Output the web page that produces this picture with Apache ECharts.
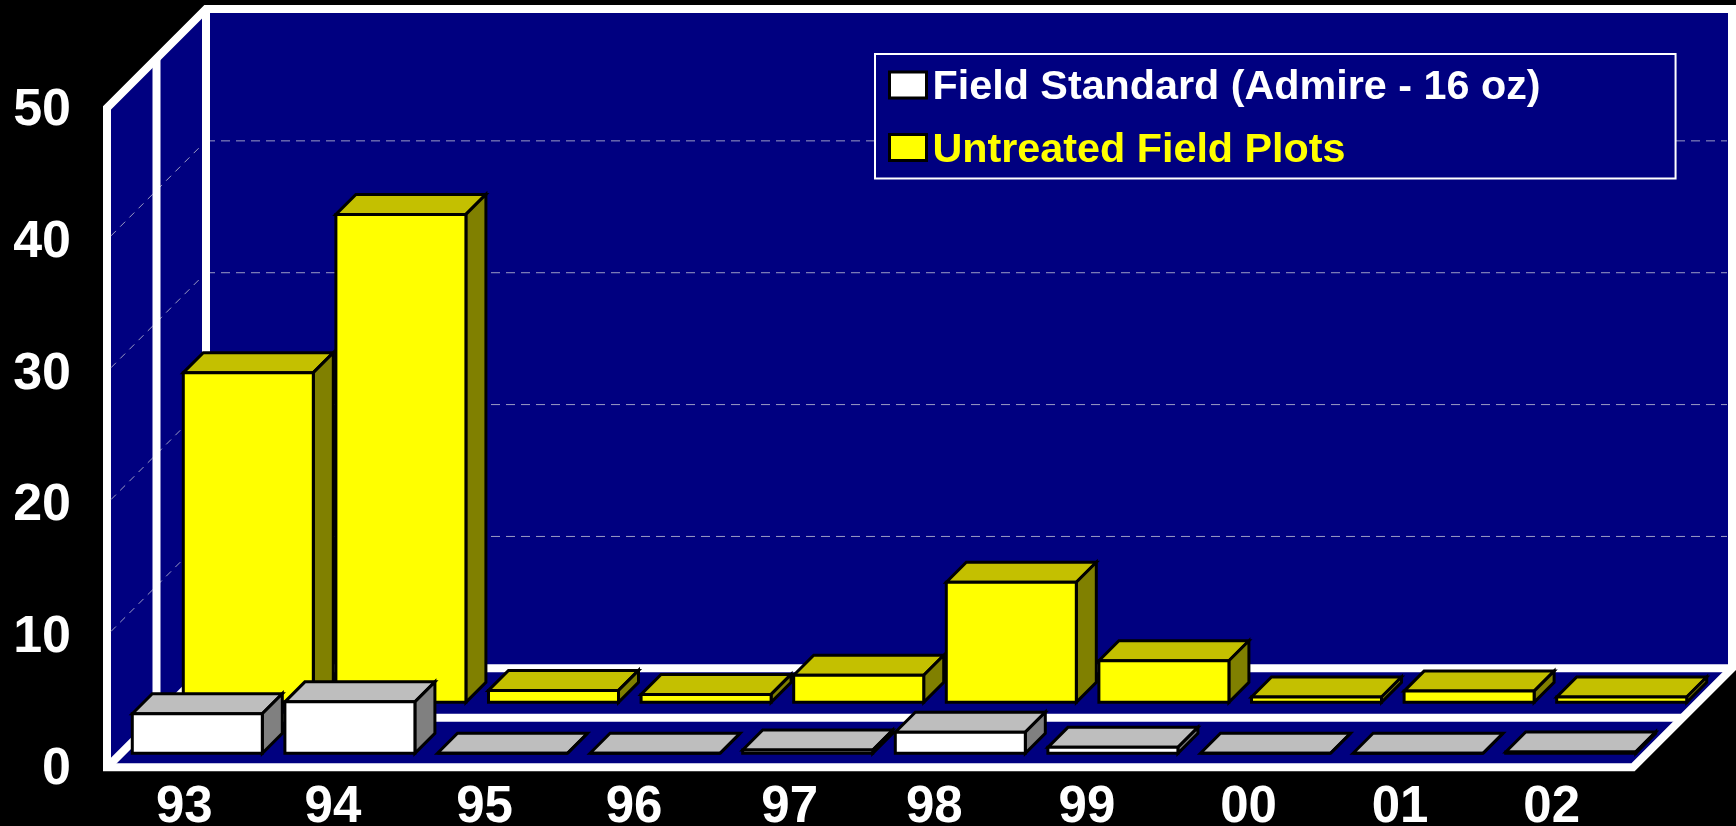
<!DOCTYPE html>
<html><head><meta charset="utf-8">
<style>html,body{margin:0;padding:0;background:#000}#c{width:1736px;height:826px}</style>
<script src="https://cdn.jsdelivr.net/npm/echarts@6/dist/echarts.min.js"></script>
</head><body><div id="c"></div>
<script>
const categories = ['93','94','95','96','97','98','99','00','01','02'];
const fieldStandard = [3.0,3.9,0,0,0.25,1.6,0.45,0,0,0.1];
const untreated = [25,37,0.9,0.6,2.05,9.1,3.15,0.4,0.85,0.4];
const yTicks = [10,20,30,40];
const labelShift = [1,-3,-4,-7,-4,-12,-12,-3,-4,-5];
const legendNames = ['Field Standard (Admire - 16 oz)','Untreated Field Plots'];

const FONT = '"Liberation Sans", Arial, sans-serif';
const DEPTH = 99, BAR_DEPTH = 20, BAR_FRAC = 0.852;
const NAVY = '#000080';

function poly(points, fill, stroke, lw){
  return {type:'polygon', shape:{points}, style:{fill, stroke, lineWidth:lw, lineJoin:'miter'}};
}
function line(a,b,stroke,lw,dash){
  return {type:'line', shape:{x1:a[0],y1:a[1],x2:b[0],y2:b[1]}, style:{stroke, lineWidth:lw, lineDash:dash||null, fill:null}};
}
function frameItem(params, api){
  const c = params.coordSys;
  const x0=c.x, x1=c.x+c.width, y0=c.y+c.height, yT=c.y;
  const D=DEPTH, M=DEPTH/2;
  const ch=[];
  ch.push(poly([[x0,y0],[x0,yT],[x0+D,yT-D],[x1+D,yT-D],[x1+D,y0-D],[x1,y0]],NAVY,'#fff',8));
  yTicks.forEach(v=>{
    const y=api.coord([0,v])[1];
    ch.push(line([x0+4,y-4],[x0+D-4,y-D+4],'#9c9cc4',1,[7,6]));
    ch.push(line([x0+D,y-D],[x1+D-5,y-D],'#9c9cc4',1,[9,6]));
  });
  const W='#fff';
  ch.push(line([x0,y0],[x0+D,y0-D],W,8));
  ch.push(line([x0+D,yT-D],[x0+D,y0-D],W,8));
  ch.push(line([x0+D,y0-D],[x1+D,y0-D],W,8));
  ch.push(line([x0+M,yT-M],[x0+M,y0-M],W,8));
  ch.push(line([x0+M,y0-M],[x1+M,y0-M],W,8));
  return {type:'group',children:ch};
}
function barItem(zFront, front, top, side){
  return function(params, api){
    const i=api.value(0), v=api.value(1);
    const p0=api.coord([i,0]), p1=api.coord([i,v]);
    const w=api.size([1,0])[0]*BAR_FRAC;
    const xl=p0[0]-w/2+zFront, xr=p0[0]+w/2+zFront;
    const yb=p0[1]-zFront, yt=p1[1]-zFront, d=BAR_DEPTH;
    return {type:'group',children:[
      poly([[xl,yt],[xl+d,yt-d],[xr+d,yt-d],[xr,yt]],top,'#000',3),
      poly([[xr,yb],[xr,yt],[xr+d,yt-d],[xr+d,yb-d]],side,'#000',3),
      poly([[xl,yb],[xl,yt],[xr,yt],[xr,yb]],front,'#000',3)
    ]};
  };
}
const rich={};
labelShift.forEach((s,i)=>{
  rich['s'+i]={color:'#fff',fontFamily:FONT,fontWeight:'bold',fontSize:51,
    padding: s<0 ? [0,-2*s,0,0] : [0,0,0,2*s]};
});
const legendStyle = (color)=>({color,fontFamily:FONT,fontWeight:'bold',fontSize:41.3,padding:[6,0,0,1]});
const chart=echarts.init(document.getElementById('c'),null,{renderer:'canvas'});
chart.setOption({
  animation:false,
  backgroundColor:'#000',
  grid:{left:107,top:108,width:1526,height:659.3,containLabel:false,outerBoundsMode:'none'},
  xAxis:{type:'category',data:categories,axisLine:{show:false},axisTick:{show:false},splitLine:{show:false},
    axisLabel:{margin:15,interval:0,formatter:(v,i)=>'{s'+i+'|'+v+'}',rich}},
  yAxis:{type:'value',min:0,max:50,interval:10,axisLine:{show:false},axisTick:{show:false},splitLine:{show:false},
    axisLabel:{margin:36,formatter:'{a|{value}}',
      rich:{a:{color:'#fff',fontFamily:FONT,fontWeight:'bold',fontSize:52,padding:[5,0,0,0]}}}},
  legend:{orient:'vertical',left:875,top:54,
    padding:[13.4,135,7.3,13],itemGap:21.7,itemWidth:37,itemHeight:26,
    backgroundColor:NAVY,borderColor:'#fff',borderWidth:2,
    selectedMode:false,
    formatter:(n)=>(n===legendNames[0]?'{w|':'{y|')+n+'}',
    textStyle:{fontFamily:FONT,fontWeight:'bold',fontSize:41.3,rich:{w:legendStyle('#fff'),y:legendStyle('#ff0')}},
    data:[
      {name:legendNames[0],icon:'rect',itemStyle:{color:'#fff',borderColor:'#000',borderWidth:3}},
      {name:legendNames[1],icon:'rect',itemStyle:{color:'#ff0',borderColor:'#000',borderWidth:3}}
    ]},
  series:[
    {type:'custom',name:'frame',z:1,silent:true,clip:false,data:[[0,0]],renderItem:frameItem,encode:{x:0,y:1}},
    {type:'custom',name:legendNames[1],z:2,clip:false,itemStyle:{color:'#ff0'},
      data:untreated.map((v,i)=>[i,v]),encode:{x:0,y:1},
      renderItem:barItem(65,'#ffff00','#c4c000','#808000')},
    {type:'custom',name:legendNames[0],z:3,clip:false,itemStyle:{color:'#fff'},
      data:fieldStandard.map((v,i)=>[i,v]),encode:{x:0,y:1},
      renderItem:barItem(14,'#ffffff','#bebebe','#808080')}
  ]
});
</script></body></html>
